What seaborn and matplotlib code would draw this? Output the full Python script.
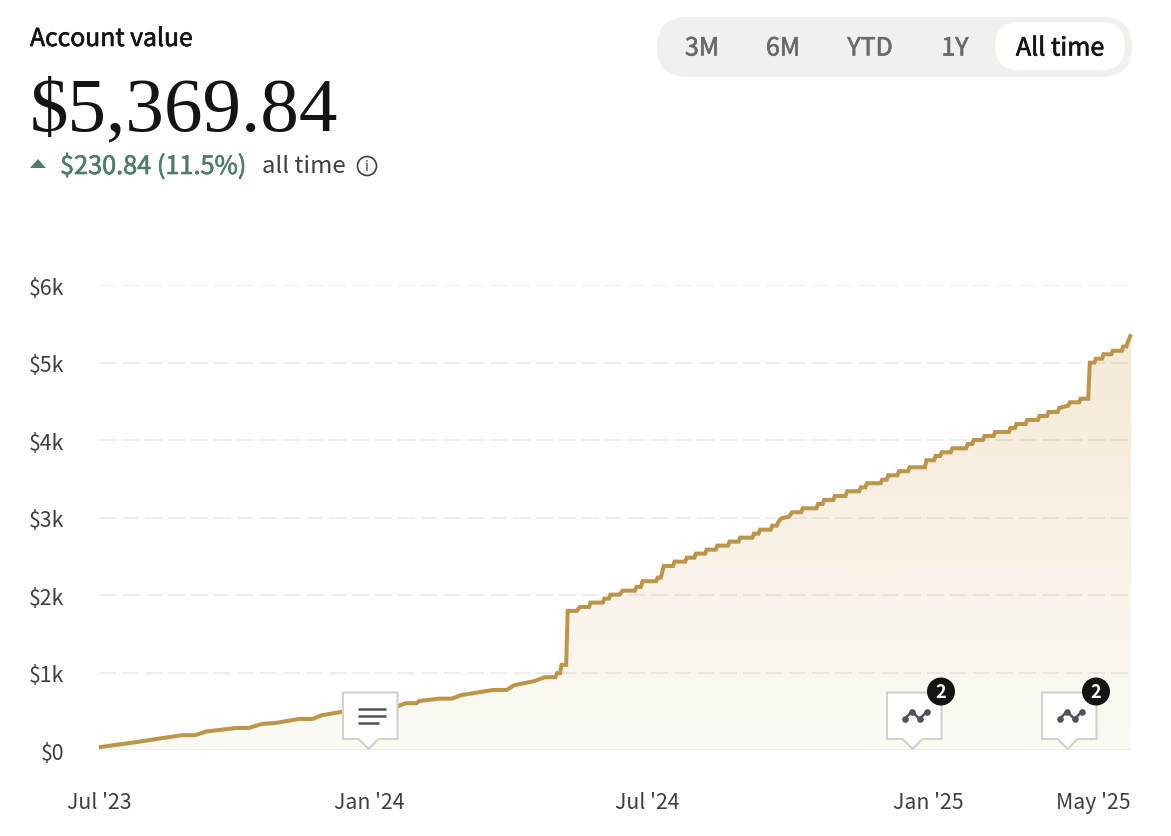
import numpy as np
import pandas as pd
import matplotlib
matplotlib.use("Agg")
import matplotlib.pyplot as plt
import matplotlib.patheffects as pe
from matplotlib.patches import FancyBboxPatch, Polygon, Circle
import seaborn as sns

# Account value (USD) against days since the first point of the series
days = [0, 24, 47, 54, 63, 70, 90, 98, 107, 116, 131, 140, 146, 159, 195, 201, 208, 210, 223, 231, 237, 258, 267, 272,
        285, 292, 299, 300, 302, 303, 306, 307, 313, 315, 321, 322, 330, 331, 334, 335, 341, 343, 351, 352, 355, 356,
        365, 366, 368, 370, 376, 377, 384, 385, 390, 391, 397, 398, 404, 405, 412, 413, 419, 420, 428, 429, 432, 433,
        440, 441, 444, 445, 447, 452, 454, 460, 461, 470, 471, 474, 475, 481, 482, 489, 490, 498, 499, 502, 503, 512,
        513, 516, 517, 523, 524, 530, 531, 541, 542, 547, 548, 551, 552, 558, 559, 568, 569, 572, 573, 579, 580, 586,
        587, 596, 597, 600, 601, 607, 608, 615, 616, 621, 622, 628, 629, 635, 636, 642, 643, 648, 649, 652, 653, 657,
        658, 663, 664, 670, 671, 673, 674, 676]
values = [41, 106, 174, 196, 196, 243, 290, 290, 342, 355, 406, 406, 454, 497, 565, 609, 609, 639, 668, 668, 712, 780,
          780, 841, 893, 944, 944, 996, 996, 1103, 1103, 1800, 1800, 1851, 1851, 1907, 1907, 1958, 1958, 2010, 2010,
          2061, 2061, 2109, 2109, 2183, 2183, 2229, 2229, 2380, 2380, 2436, 2436, 2487, 2487, 2539, 2539, 2590, 2590,
          2642, 2642, 2694, 2694, 2745, 2745, 2797, 2797, 2848, 2848, 2900, 2900, 2948, 2995, 3016, 3073, 3073, 3124,
          3124, 3180, 3180, 3232, 3232, 3283, 3283, 3344, 3344, 3395, 3395, 3447, 3447, 3493, 3493, 3550, 3550, 3602,
          3602, 3653, 3653, 3744, 3744, 3799, 3799, 3847, 3847, 3898, 3898, 3954, 3954, 4005, 4005, 4057, 4057, 4109,
          4109, 4160, 4160, 4212, 4212, 4263, 4263, 4315, 4315, 4367, 4367, 4418, 4450, 4492, 4492, 4538, 4538, 5003,
          5003, 5054, 5054, 5111, 5111, 5157, 5157, 5212, 5212, 5274, 5369.84]
y_ticks = [0, 1000, 2000, 3000, 4000, 5000, 6000]
y_labels = ["$0", "$1k", "$2k", "$3k", "$4k", "$5k", "$6k"]
x_ticks = [0, 177, 359, 543, 651]
x_labels = ["Jul '23", "Jan '24", "Jul '24", "Jan '25", "May '25"]
range_labels = ["3M", "6M", "YTD", "1Y"]

sns.set_theme(style="white")
SANS = ["Noto Sans CJK SC", "DejaVu Sans"]
plt.rcParams["font.family"] = SANS

W, H = 1171, 837
GOLD = "#bd9549"
FILL = "#c9973c"
INK = "#141412"
GREEN = "#4f7d67"
GREY = "#3f3f3d"
ICON = "#50525a"
EDGE = "#d2d1cc"

fig = plt.figure(figsize=(W / 100, H / 100), dpi=100, facecolor="white")
ax = fig.add_axes([99 / W, (H - 751.4) / H, (1131 - 99) / W, 465 / H])

df = pd.DataFrame({"day": days, "value": values})
xmax = df["day"].max()

# gradient area under the curve
poly = ax.fill_between(df["day"], df["value"], 0, color="none", lw=0)
grad = np.zeros((256, 2, 4))
grad[..., :3] = matplotlib.colors.to_rgb(FILL)
grad[..., 3] = np.linspace(0.21, 0.05, 256)[:, None]
im = ax.imshow(grad, extent=[0, xmax, 0, df["value"].max()], aspect="auto", origin="upper", zorder=1)
im.set_clip_path(poly.get_paths()[0], ax.transData)

for t in y_ticks[1:]:
    ax.axhline(t, color=(0.3, 0.25, 0.1), alpha=0.085, lw=1.44, linestyle=(0, (8.5, 3)),
               dash_capstyle="butt", zorder=2)
ax.axhline(0, color="#efeee9", lw=1.44, zorder=2)

sns.lineplot(data=df, x="day", y="value", ax=ax, color=GOLD, lw=2.9, errorbar=None, zorder=3,
             clip_on=False, solid_joinstyle="miter", solid_capstyle="butt")

ax.set_xlim(0, xmax)
ax.set_ylim(0, 6000)
ax.set_xticks(x_ticks, x_labels)
ax.set_yticks(y_ticks, y_labels)
ax.set_xlabel("")
ax.set_ylabel("")
ax.tick_params(axis="both", length=0, labelsize=15.3, labelcolor=GREY)
ax.tick_params(axis="y", pad=25)
ax.tick_params(axis="x", pad=29.5)
sns.despine(ax=ax, left=True, bottom=True, top=True, right=True)

# overlay in pixel coordinates for the page furniture
ov = fig.add_axes([0, 0, 1, 1], zorder=5)
ov.set_xlim(0, W)
ov.set_ylim(H, 0)
ov.axis("off")
ov.patch.set_alpha(0)


def heavy(color, w=0.45):
    return [pe.withStroke(linewidth=w, foreground=color)]


ov.text(30, 40, "Account value", fontsize=17.8, color=INK, va="center", ha="left", path_effects=heavy(INK))
ov.text(30, 130, "$5,369.84", fontsize=55.5, family="Liberation Serif", color=INK, va="baseline", ha="left")
ov.add_patch(Polygon([(30, 169), (38, 160), (46, 169)], closed=True, fc=GREEN, ec="none"))
ov.text(60, 168, "$230.84 (11.5%)", fontsize=18.2, color=GREEN, va="center", ha="left", path_effects=heavy(GREEN))
ov.text(262, 166, "all time", fontsize=17.2, color=GREY, va="center", ha="left")
ov.add_patch(Circle((367, 167), 9.5, fc="none", ec=GREY, lw=1.2))
ov.text(367, 167, "i", fontsize=10, color=GREY, va="center", ha="center")

ov.add_patch(FancyBboxPatch((657, 18), 475, 60, boxstyle="round,pad=0,rounding_size=30", fc="#f1f0ec", ec="none"))
ov.add_patch(FancyBboxPatch((995, 23), 130, 48, boxstyle="round,pad=0,rounding_size=24", fc="white", ec="none"))
for lab, cx in zip(range_labels, [702, 783, 870, 955]):
    ov.text(cx, 49.5, lab, fontsize=18, color="#6b6a66", va="center", ha="center", path_effects=heavy("#6b6a66"))
ov.text(1060, 49.5, "All time", fontsize=18, color=INK, va="center", ha="center", path_effects=heavy(INK))


def callout(x0):
    x1, top, bot, tip = x0 + 54.5, 693.5, 740, x0 + 25.5
    pts = [(x0, top), (x1, top), (x1, bot), (tip + 10, bot), (tip, 750), (tip - 10, bot), (x0, bot)]
    ov.add_patch(Polygon(pts, closed=True, fc="white", ec=EDGE, lw=1.5, joinstyle="round"))


callout(343)
for y, x_end in [(710, 386), (717, 386), (724, 379)]:
    ov.plot([358, x_end], [y, y], color=ICON, lw=1.8, solid_capstyle="butt")

for x0 in [887, 1042]:
    callout(x0)
    ov.plot(np.array([17.5, 25, 32.5, 40]) + x0, [720, 712.5, 720, 712.5], color=ICON, lw=1.8,
            marker="o", ms=4.8, mec="none")
    ov.add_patch(Circle((x0 + 54, 692.5), 14, fc=INK, ec="none"))
    ov.text(x0 + 54, 692, "2", fontsize=13, fontweight="bold", color="white", va="center", ha="center")

fig.savefig("out.png", dpi=100, facecolor="white")
